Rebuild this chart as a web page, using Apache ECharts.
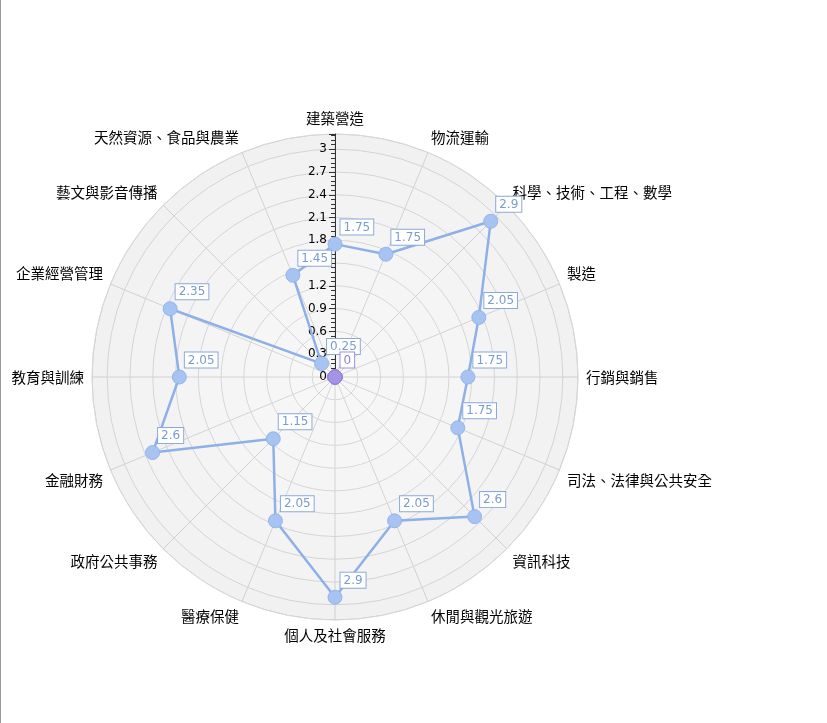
<!DOCTYPE html>
<html>
<head>
<meta charset="utf-8">
<script src="https://cdn.jsdelivr.net/npm/echarts@6/dist/echarts.min.js"></script>
<style>
html,body{margin:0;padding:0;background:#fff;}
#wrap{width:827px;height:723px;box-sizing:border-box;border-left:1px solid #9a9a9a;}
#chart{width:826px;height:723px;}
</style>
</head>
<body>
<div id="wrap"><div id="chart"></div></div>
<script>
const categories = ['建築營造','物流運輸','科學、技術、工程、數學','製造','行銷與銷售','司法、法律與公共安全','資訊科技','休閒與觀光旅遊','個人及社會服務','醫療保健','政府公共事務','金融財務','教育與訓練','企業經營管理','藝文與影音傳播','天然資源、食品與農業'];
const scores = [1.75,1.75,2.9,2.05,1.75,1.75,2.6,2.05,2.9,2.05,1.15,2.6,2.05,2.35,0.25,1.45];
const baseline = [0,0,0,0,0,0,0,0,0,0,0,0,0,0,0,0];
const radiusMax = 3.2;
const tickStep = 0.3;

function buildData(vals, showAllLabels) {
  const d = vals.map((v, i) => ({
    value: [v, i],
    label: { show: showAllLabels || i === 0 }
  }));
  d.push({ value: [vals[0], 0], label: { show: false }, symbol: 'none' });
  return d;
}

const labelBox = (txt, border) => ({
  show: true,
  position: [13, -17],
  formatter: p => String(p.value[0]),
  color: txt,
  fontFamily: 'DejaVu Sans',
  fontSize: 12,
  backgroundColor: '#fff',
  borderColor: border,
  borderWidth: 1,
  padding: [2, 3, 1, 3]
});

const chart = echarts.init(document.getElementById('chart'), null, { renderer: 'canvas' });
chart.setOption({
  animation: false,
  polar: { center: [334, 377], radius: 243 },
  angleAxis: {
    type: 'value',
    min: 0,
    max: categories.length,
    interval: 1,
    startAngle: 90,
    clockwise: true,
    axisLine: { show: true, lineStyle: { color: '#dadada', width: 1 } },
    axisTick: { show: false },
    axisLabel: {
      margin: 8, color: '#000', fontSize: 14.5, fontFamily: 'Noto Sans CJK TC',
      formatter: v => categories[v] || ''
    },
    splitLine: { show: true, lineStyle: { color: '#dcdcdc', width: 1 } },
    z: 1
  },
  radiusAxis: {
    type: 'value',
    min: 0,
    max: radiusMax,
    interval: tickStep,
    axisLine: { show: true, lineStyle: { color: '#333', width: 1 } },
    axisTick: { show: true, length: 6, lineStyle: { color: '#333' } },
    minorTick: { show: true, splitNumber: 5, length: 4, lineStyle: { color: '#333' } },
    axisLabel: {
      color: '#000', fontSize: 12, fontFamily: 'DejaVu Sans', margin: 8,
      formatter: v => (Math.abs(v / tickStep - Math.round(v / tickStep)) < 1e-6 ? String(+v.toFixed(2)) : '')
    },
    splitLine: { show: true, lineStyle: { color: '#dedede', width: 1 } },
    splitArea: { show: true, areaStyle: { color: ['rgba(0,0,0,0.03)','rgba(0,0,0,0.032)','rgba(0,0,0,0.034)','rgba(0,0,0,0.036)','rgba(0,0,0,0.038)','rgba(0,0,0,0.04)','rgba(0,0,0,0.043)','rgba(0,0,0,0.046)','rgba(0,0,0,0.049)','rgba(0,0,0,0.052)','rgba(0,0,0,0.056)'] } },
    z: 3
  },
  series: [
    {
      type: 'line',
      coordinateSystem: 'polar',
      data: buildData(scores, true),
      symbol: 'circle',
      symbolSize: 14,
      lineStyle: { color: '#8db0e8', width: 2.5 },
      itemStyle: { color: '#a6c3f2', borderColor: '#93b4ea', borderWidth: 1 },
      label: labelBox('#7a9bd2', '#8aa9da'),
      z: 4
    },
    {
      type: 'line',
      coordinateSystem: 'polar',
      data: buildData(baseline, false),
      symbol: 'circle',
      symbolSize: 14,
      lineStyle: { color: '#9b8be0', width: 2 },
      itemStyle: { color: '#a593e6', borderColor: '#9482dc', borderWidth: 1 },
      label: labelBox('#8f7fd8', '#9d8fe0'),
      z: 5
    }
  ]
});
</script>
</body>
</html>
